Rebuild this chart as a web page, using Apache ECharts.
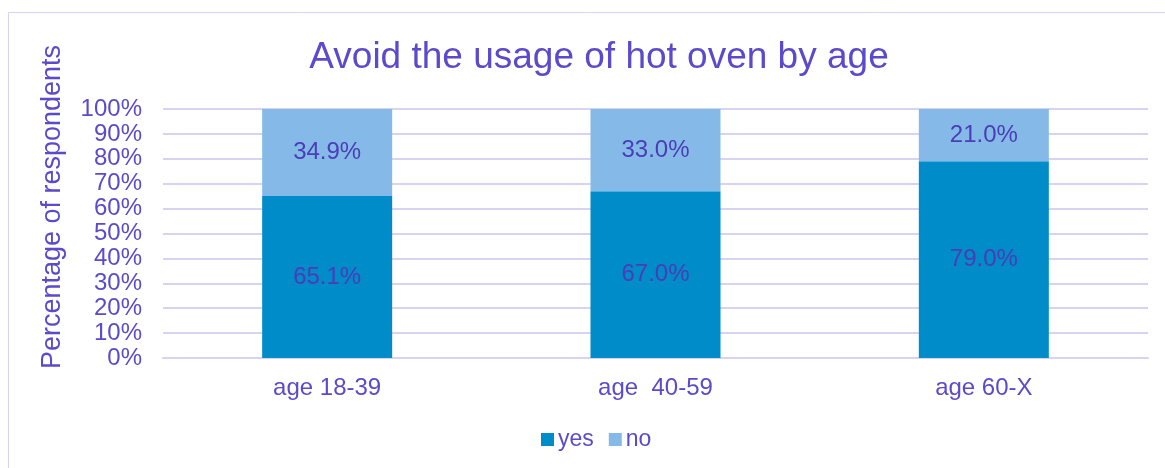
<!DOCTYPE html>
<html><head><meta charset="utf-8">
<script src="https://cdn.jsdelivr.net/npm/echarts@6/dist/echarts.min.js"></script>
<style>html,body{margin:0;padding:0;background:#fff}#c{width:1165px;height:468px}</style>
</head><body><div id="c"></div>
<script>
const categories = ['age 18-39', 'age  40-59', 'age 60-X'];
const yesValues = [65.1, 67.0, 79.0];
const noValues = [34.9, 33.0, 21.0];
const yTicks = [0, 10, 20, 30, 40, 50, 60, 70, 80, 90, 100];

const txt = '#5B4ACB';
const lbl = '#4B3CB8';
const ff = 'Liberation Sans, Arial, sans-serif';
const chart = echarts.init(document.getElementById('c'));
chart.setOption({
  animation: false,
  textStyle: { fontFamily: ff },
  graphic: [
    { type: 'rect', shape: { x: 8.5, y: 12.5, width: 1170, height: 470 }, style: { fill: 'none', stroke: '#D9D3F3', lineWidth: 1 }, silent: true },
    { type: 'text', x: 53, y: 207, rotation: Math.PI / 2, silent: true,
      style: { text: 'Percentage of respondents', fill: txt, font: '27px ' + ff, textAlign: 'center', textVerticalAlign: 'middle' } }
  ],
  title: { text: 'Avoid the usage of hot oven by age', left: 594, top: 34, textAlign: 'center',
    textStyle: { color: txt, fontSize: 37, fontWeight: 'normal', fontFamily: ff } },
  legend: { top: 428, left: 541, padding: 0, itemWidth: 13, itemHeight: 13, itemGap: 15, icon: 'rect',
    textStyle: { color: txt, fontSize: 23, padding: [0, 0, 0, -1] }, data: ['yes', 'no'] },
  grid: { left: 163, right: 17, top: 109, bottom: 110 },
  xAxis: { type: 'category', data: categories, axisTick: { show: false },
    axisLine: { lineStyle: { color: '#D9D3F3', width: 2 } },
    axisLabel: { color: txt, fontSize: 24, margin: 18 } },
  yAxis: { type: 'value', min: 0, max: 100, interval: 10,
    axisLine: { show: false }, axisTick: { show: false },
    axisLabel: { color: txt, fontSize: 24, margin: 21, formatter: v => yTicks.includes(v) ? v + '%' : '' },
    splitLine: { lineStyle: { color: '#D9D3F3', width: 2 } } },
  series: [
    { name: 'yes', type: 'bar', stack: 's', data: yesValues, barWidth: 130,
      itemStyle: { color: '#008BC9' },
      label: { show: true, position: 'inside', color: lbl, fontSize: 24, formatter: p => p.value.toFixed(1) + '%' } },
    { name: 'no', type: 'bar', stack: 's', data: noValues, barWidth: 130,
      itemStyle: { color: '#85BAE8' },
      label: { show: true, position: 'inside', color: lbl, fontSize: 24, formatter: p => p.value.toFixed(1) + '%' } }
  ]
});
</script></body></html>
